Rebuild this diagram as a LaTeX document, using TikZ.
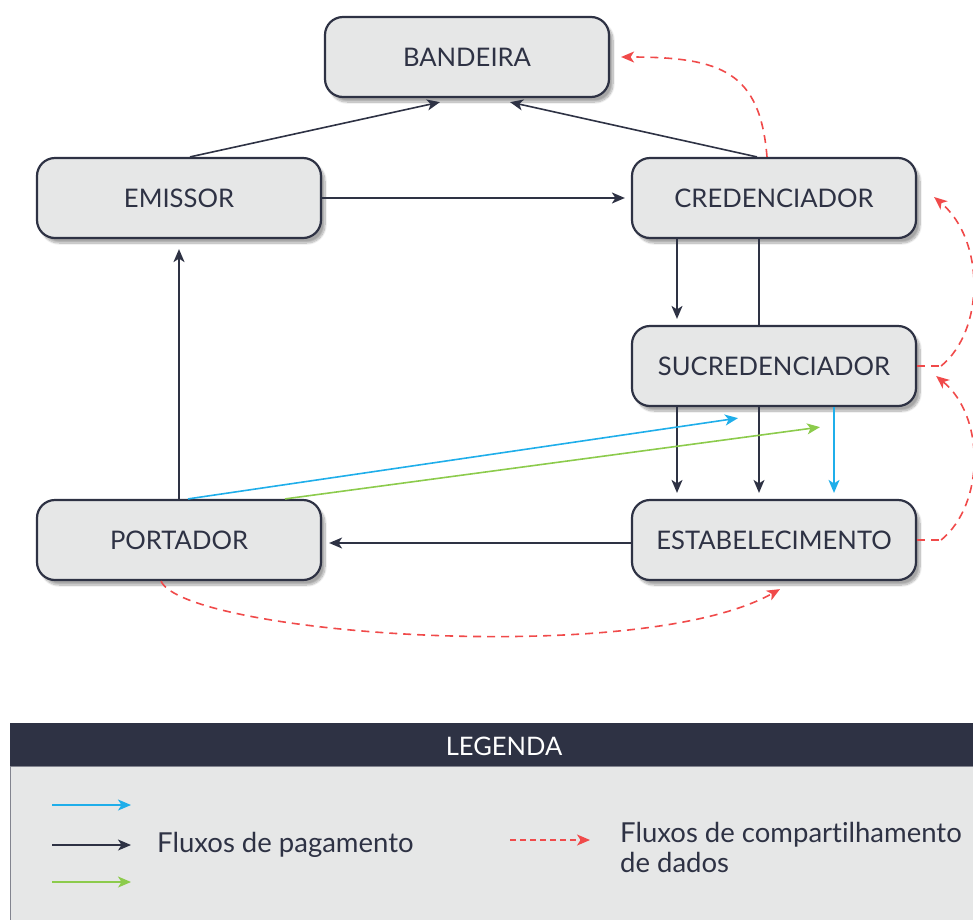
\documentclass[tikz,border=0pt]{standalone}
\usepackage{fontspec}
\setmainfont[Ligatures={NoCommon}]{Lato}
\usetikzlibrary{arrows.meta,shadows.blur}
\definecolor{ink}{HTML}{2E3244}
\definecolor{boxfill}{HTML}{E6E7E7}
\definecolor{flowblue}{HTML}{1FAEEA}
\definecolor{flowgreen}{HTML}{8CCB4C}
\definecolor{flowred}{HTML}{F04A4A}
\tikzset{
  entity/.style={draw=ink, line width=2.2pt, fill=boxfill, rounded corners=18pt,
    minimum width=284pt, minimum height=80pt, inner sep=0pt,
    text=ink, font=\fontsize{25.6}{30}\selectfont,
    blur shadow={shadow xshift=4pt, shadow yshift=-5pt, shadow blur steps=12, shadow opacity=35}},
  tipk/.tip={Stealth[length=13pt,width=11pt,inset=3.5pt]},
  pay/.style={draw=ink, line width=1.6pt, -tipk},
  payblue/.style={draw=flowblue, line width=1.6pt, -tipk},
  paygreen/.style={draw=flowgreen, line width=1.6pt, -tipk},
  plain/.style={draw=ink, line width=1.6pt},
  share/.style={draw=flowred, line width=1.6pt, dash pattern=on 8pt off 6pt, -tipk},
  sharenotip/.style={draw=flowred, line width=1.6pt, dash pattern=on 8pt off 6pt},
  legtext/.style={text=ink, font=\fontsize{27.5}{30}\selectfont, anchor=west, align=left, inner sep=0pt}
}
\begin{document}
\begin{tikzpicture}[x=1pt,y=-1pt]
\useasboundingbox (0,0) rectangle (973,919);

% participants
\node[entity] (bandeira) at (467,57)  {BANDEIRA};
\node[entity] (emissor)  at (179,198) {EMISSOR};
\node[entity] (cred)     at (774,198) {CREDENCIADOR};
\node[entity] (sucred)   at (774,366) {SUCREDENCIADOR};
\node[entity] (portador) at (179,540) {PORTADOR};
\node[entity] (estab)    at (774,540) {ESTABELECIMENTO};

% payment flows
\draw[pay] ([xshift=11pt]emissor.north) -- ([xshift=-27pt,yshift=-4pt]bandeira.south);
\draw[pay] ([xshift=-17pt]cred.north) -- ([xshift=43pt,yshift=-4pt]bandeira.south);
\draw[pay] (emissor.east) -- ([xshift=-6pt]cred.west);
\draw[pay] ([xshift=-97pt]cred.south) -- ([xshift=-97pt,yshift=6pt]sucred.north);
\draw[plain] ([xshift=-15pt]cred.south) -- ([xshift=-15pt]sucred.north);
\draw[pay] ([xshift=-97pt]sucred.south) -- ([xshift=-97pt,yshift=6pt]estab.north);
\draw[pay] ([xshift=-15pt]sucred.south) -- ([xshift=-15pt,yshift=6pt]estab.north);
\draw[payblue] ([xshift=60pt]sucred.south) -- ([xshift=60pt,yshift=6pt]estab.north);
\draw[payblue] ([xshift=9pt]portador.north) -- ([xshift=-36pt,yshift=-11pt]sucred.south);
\draw[paygreen] ([xshift=106pt]portador.north) -- ([xshift=46pt,yshift=-20pt]sucred.south);
\draw[pay] (portador.north) -- ([yshift=-10pt]emissor.south);
\draw[pay] ([yshift=-3pt]estab.west) -- ([xshift=7pt,yshift=-3pt]portador.east);

% data sharing flows
\draw[share] ([xshift=-7pt]cred.north) .. controls (760,72) and (722,57) .. ([xshift=11pt]bandeira.east);
\draw[sharenotip] (sucred.east) -- ++(24,0) coordinate (s1);
\draw[share] (s1) .. controls (985,330) and (985,240) .. ([xshift=17pt,yshift=1pt]cred.east);
\draw[sharenotip] (estab.east) -- ++(24,0) coordinate (e1);
\draw[share] (e1) .. controls (985,504) and (985,416) .. ([xshift=19pt,yshift=-10pt]sucred.east);
\draw[share] ([xshift=-18pt]portador.south) .. controls (185,634) and (640,668) .. ([xshift=6pt,yshift=-8pt]estab.south);

% legend
\fill[ink] (10,723) rectangle (985,766);
\node[text=white, font=\fontsize{25.5}{28}\selectfont] (legtitle) at (504,746) {LEGENDA};
\filldraw[fill=boxfill, draw=ink!60, line width=0.8pt] (10,766) rectangle (985,930);
\coordinate (lb0) at (52,805);  \coordinate (lb1) at (131,805);
\coordinate (lk0) at (52,845);  \coordinate (lk1) at (131,845);
\coordinate (lg0) at (52,882);  \coordinate (lg1) at (131,882);
\coordinate (lr0) at (510,840); \coordinate (lr1) at (590,840);
\draw[payblue] (lb0) -- (lb1);
\draw[pay] (lk0) -- (lk1);
\draw[paygreen] (lg0) -- (lg1);
\draw[share, dash pattern=on 6pt off 4pt] (lr0) -- (lr1);
\node[legtext] (legpay) at (157,845) {Fluxos de pagamento};
\node[legtext] (legshare) at (620,847) {Fluxos de compartilhamento\\de dados};
\end{tikzpicture}
\end{document}
